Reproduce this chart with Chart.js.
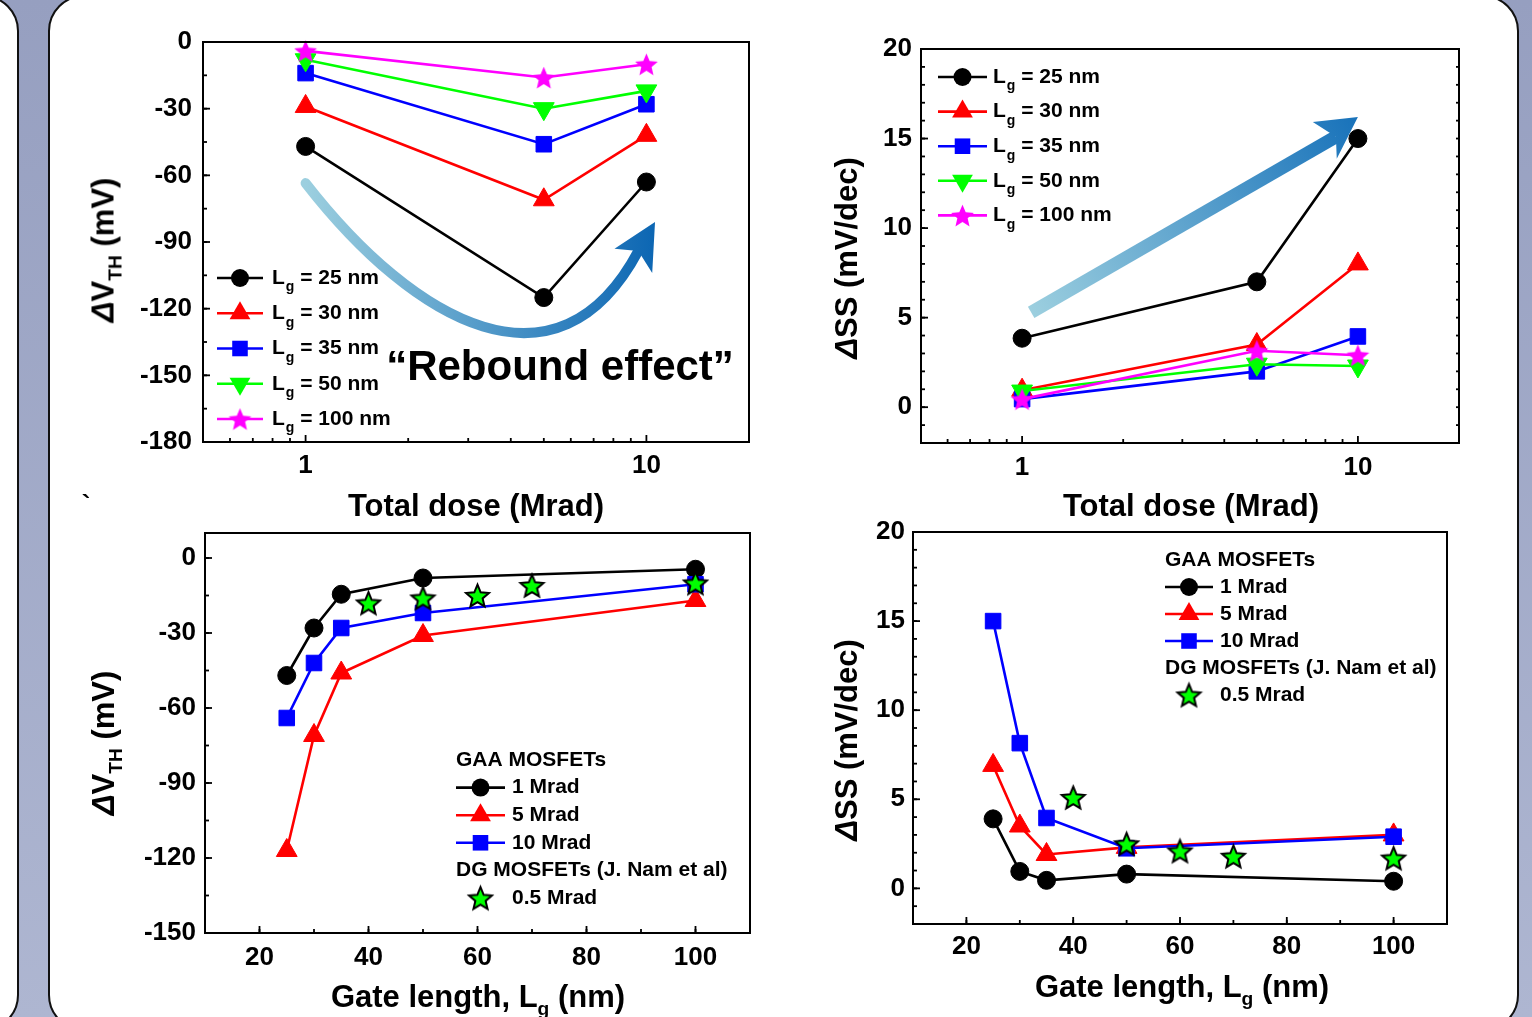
<!DOCTYPE html>
<html>
<head>
<meta charset="utf-8">
<script src="https://cdn.jsdelivr.net/npm/chart.js@4.4.1/dist/chart.umd.min.js"></script>
<style>
  body { margin: 0; width: 1532px; height: 1017px; overflow: hidden; position: relative;
    background: linear-gradient(#969fc0, #aeb6d1); font-family: "Liberation Sans", Arial, sans-serif; }
  .panel { position: absolute; background: #fff; border: 2px solid #111; border-radius: 36px; box-sizing: border-box; }
  canvas { position: absolute; left: 0; top: 0; }
  .t { position: absolute; font-weight: bold; white-space: nowrap; line-height: 1; font-size: 31px;
    transform: translate(-50%, -50%); color: #000; }
  .ty { transform: translate(-50%, -50%) rotate(-90deg); }
  .s { font-size: 0.62em; position: relative; top: 0.4em; }
</style>
</head>
<body>
<div class="panel" style="left:-100px;top:-5px;width:119px;height:1036px"></div>
<div class="panel" style="left:48px;top:-5px;width:1471px;height:1036px"></div>

<canvas id="c1" width="1532" height="1017"></canvas>
<canvas id="c2" width="1532" height="1017"></canvas>
<canvas id="c3" width="1532" height="1017"></canvas>
<canvas id="c4" width="1532" height="1017"></canvas>

<div class="t ty" style="left:103px;top:250px"><i>Δ</i>V<span class="s">TH</span> (mV)</div>
<div class="t" style="left:476px;top:505px">Total dose (Mrad)</div>
<div class="t ty" style="left:846px;top:258px"><i>Δ</i>SS (mV/dec)</div>
<div class="t" style="left:1191px;top:505px">Total dose (Mrad)</div>
<div class="t ty" style="left:103px;top:743px"><i>Δ</i>V<span class="s">TH</span> (mV)</div>
<div class="t" style="left:478px;top:996px">Gate length, L<span class="s">g</span> (nm)</div>
<div class="t ty" style="left:846px;top:740px"><i>Δ</i>SS (mV/dec)</div>
<div class="t" style="left:1182px;top:986px">Gate length, L<span class="s">g</span> (nm)</div>
<div class="t" style="left:560px;top:366px;font-size:42px">“Rebound effect”</div>
<div class="t" style="left:86px;top:504px;font-size:26px">`</div>

<script>
// ---- data: top row, vs total dose ----
const doses = [1, 5, 10];
const dvthLg25 = [-47, -115, -63];
const dvthLg30 = [-29, -71, -42];
const dvthLg35 = [-14, -46, -28];
const dvthLg50 = [-8, -30, -22];
const dvthLg100 = [-4, -16, -10];

const dssLg25 = [3.85, 7.0, 15.0];
const dssLg30 = [0.95, 3.5, 8.0];
const dssLg35 = [0.45, 2.0, 3.95];
const dssLg50 = [0.9, 2.4, 2.3];
const dssLg100 = [0.45, 3.15, 2.9];

// ---- data: bottom row, vs gate length ----
const gateLengths = [25, 30, 35, 50, 100];
const dvth1Mrad = [-47, -28, -14.5, -8, -4.5];
const dvth5Mrad = [-117, -71, -46, -31, -17];
const dvth10Mrad = [-64, -42, -28, -22, -10.5];
const namLengths = [40, 50, 60, 70, 100];
const namDvth = [-18, -16, -15, -11, -10];

const dss1Mrad = [3.9, 0.95, 0.45, 0.8, 0.4];
const dss5Mrad = [6.9, 3.5, 1.9, 2.3, 3.0];
const dss10Mrad = [15, 8.15, 3.95, 2.25, 2.9];
const namDss = [5.1, 2.5, 2.1, 1.8, 1.7];

// ---- ticks ----
const doseTicks = [1, 10];
const doseMinor = [0.6, 0.7, 0.8, 0.9, 2, 3, 4, 5, 6, 7, 8, 9, 20];
const dvthTicks = [0, -30, -60, -90, -120, -150, -180];
const dssTicks = [0, 5, 10, 15, 20];
const lengthTicks = [20, 40, 60, 80, 100];

const FONT = '"Liberation Sans", Arial, sans-serif';
const tickFont = { family: FONT, size: 26, weight: 'bold' };

function starImage(R, fill, stroke, lw) {
    const c = document.createElement('canvas');
    const size = Math.ceil(2 * R + lw + 3);
    c.width = c.height = size;
    const g = c.getContext('2d');
    const cx = size / 2, cy = size / 2 + R * 0.1;
    g.beginPath();
    for (let k = 0; k < 10; k++) {
        const r = k % 2 ? R * 0.45 : R;
        const a = -Math.PI / 2 + k * Math.PI / 5;
        g.lineTo(cx + r * Math.cos(a), cy + r * Math.sin(a));
    }
    g.closePath();
    g.fillStyle = fill;
    g.fill();
    if (stroke) {
        g.lineWidth = lw;
        g.strokeStyle = stroke;
        g.stroke();
    }
    return c;
}
const magentaStar = starImage(12, '#ff00ff', null, 0);
const greenStar = starImage(12, '#00ff00', '#000', 2);

function range(a, b, step) {
    const out = [];
    for (let v = a; v <= b + 1e-9; v += step) out.push(v);
    return out;
}

function series(label, xs, ys, color, style, extra) {
    return Object.assign({
        label: label,
        data: xs.map((x, i) => ({ x: x, y: ys[i] })),
        showLine: true,
        borderColor: color,
        backgroundColor: color,
        borderWidth: 2.6,
        pointBackgroundColor: color,
        pointBorderColor: color,
        pointBorderWidth: 1,
        pointStyle: style,
        pointRadius: 9,
        clip: false
    }, extra || {});
}

function drawMarker(ctx, ds, x, y) {
    const st = ds.pointStyle, r = ds.pointRadius;
    if (st instanceof HTMLCanvasElement) {
        ctx.drawImage(st, x - st.width / 2, y - st.height / 2);
        return;
    }
    ctx.fillStyle = ds.pointBackgroundColor;
    ctx.beginPath();
    if (st === 'circle') ctx.arc(x, y, r, 0, Math.PI * 2);
    else if (st === 'rect') {
        const h = r * Math.SQRT1_2;
        ctx.rect(x - h, y - h, 2 * h, 2 * h);
    } else if (st === 'triangle') {
        const rot = (ds.pointRotation || 0) * Math.PI / 180;
        for (let k = 0; k < 3; k++) {
            const a = rot + k * 2 * Math.PI / 3;
            ctx.lineTo(x + Math.sin(a) * r, y - Math.cos(a) * r);
        }
        ctx.closePath();
    }
    ctx.fill();
}

function drawParts(ctx, parts, x, y, size) {
    parts.forEach(p => {
        if (typeof p === 'string') {
            ctx.font = 'bold ' + size + 'px ' + FONT;
            ctx.fillText(p, x, y);
            x += ctx.measureText(p).width;
        } else {
            ctx.font = 'bold ' + Math.round(size * 0.65) + 'px ' + FONT;
            ctx.fillText(p.sub, x + 1, y + size * 0.45);
            x += ctx.measureText(p.sub).width + 1;
        }
    });
}

// frame box + inward ticks
const frameTicks = {
    id: 'frameTicks',
    afterDraw(chart, args, o) {
        const { ctx, chartArea: a, scales: { x, y } } = chart;
        ctx.save();
        ctx.strokeStyle = '#000';
        ctx.lineWidth = 2;
        ctx.strokeRect(a.left, a.top, a.right - a.left, a.bottom - a.top);
        ctx.lineWidth = 1.8;
        const tick = (px, py, dx, dy) => {
            ctx.beginPath();
            ctx.moveTo(px, py);
            ctx.lineTo(px + dx, py + dy);
            ctx.stroke();
        };
        x.ticks.forEach(t => tick(x.getPixelForValue(t.value), a.bottom, 0, -7));
        (o.xMinor || []).forEach(v => tick(x.getPixelForValue(v), a.bottom, 0, -4));
        y.ticks.forEach(t => tick(a.left, y.getPixelForValue(t.value), 7, 0));
        (o.yMinor || []).forEach(v => tick(a.left, y.getPixelForValue(v), 4, 0));
        if (o.mirrorY) {
            (o.yMinor || []).forEach(v => tick(a.right, y.getPixelForValue(v), -3, 0));
        }
        ctx.restore();
    }
};

// blue gradient arrows
const arrowDeco = {
    id: 'arrowDeco',
    beforeDatasetsDraw(chart, args, o) {
        if (!o.shaft) return;
        const { ctx, scales: { x, y } } = chart;
        const P = p => [x.getPixelForValue(p[0]), y.getPixelForValue(p[1])];
        const s = o.shaft.map(P);
        const h = o.head.map(P);
        const g = ctx.createLinearGradient(s[0][0], o.horizontal ? 0 : s[0][1], h[0][0], o.horizontal ? 0 : h[0][1]);
        g.addColorStop(0, o.from);
        g.addColorStop(1, o.to);
        ctx.save();
        ctx.strokeStyle = g;
        ctx.fillStyle = g;
        ctx.lineWidth = o.width;
        ctx.lineCap = o.cap || 'butt';
        ctx.beginPath();
        ctx.moveTo(s[0][0], s[0][1]);
        if (s.length === 4) ctx.bezierCurveTo(s[1][0], s[1][1], s[2][0], s[2][1], s[3][0], s[3][1]);
        else ctx.lineTo(s[1][0], s[1][1]);
        ctx.stroke();
        ctx.beginPath();
        ctx.moveTo(h[0][0], h[0][1]);
        h.slice(1).forEach(p => ctx.lineTo(p[0], p[1]));
        ctx.closePath();
        ctx.fill();
        ctx.restore();
    }
};

// custom legend drawn inside the plot
const keyBox = {
    id: 'keyBox',
    afterDatasetsDraw(chart, args, o) {
        if (!o.entries) return;
        const ctx = chart.ctx;
        ctx.save();
        ctx.textBaseline = 'middle';
        ctx.fillStyle = '#000';
        o.entries.forEach((e, i) => {
            const yy = o.top + i * o.gap;
            let tx = o.left;
            if (e.ds !== undefined) {
                const ds = chart.data.datasets[e.ds];
                if (!e.noLine) {
                    ctx.strokeStyle = ds.borderColor;
                    ctx.lineWidth = 2.6;
                    ctx.beginPath();
                    ctx.moveTo(o.left, yy);
                    ctx.lineTo(o.left + o.lineLen, yy);
                    ctx.stroke();
                }
                drawMarker(ctx, ds, o.left + o.lineLen / 2, yy);
                tx = o.left + o.textAt;
            }
            ctx.fillStyle = '#000';
            drawParts(ctx, e.text, tx, yy, o.size);
        });
        ctx.restore();
    }
};

function makeChart(id, area, xs, ys, datasets, plugins) {
    return new Chart(document.getElementById(id), {
        type: 'scatter',
        data: { datasets: datasets },
        options: {
            responsive: false,
            animation: false,
            devicePixelRatio: 1,
            layout: { padding: { left: 0, top: area.top, right: 1532 - area.right, bottom: 0 } },
            scales: {
                x: {
                    type: xs.type, min: xs.min, max: xs.max, position: 'bottom',
                    grid: { display: false, drawTicks: false }, border: { display: false },
                    ticks: { padding: xs.pad, font: tickFont, color: '#000', maxRotation: 0, autoSkip: false,
                        callback: v => String(v) },
                    afterBuildTicks: s => { s.ticks = xs.ticks.map(v => ({ value: v })); },
                    afterFit: s => {
                        s.height = 1017 - area.bottom;
                        s.paddingLeft = 0; s.paddingRight = 0;
                    }
                },
                y: {
                    type: 'linear', min: ys.min, max: ys.max, position: 'left',
                    grid: { display: false, drawTicks: false }, border: { display: false },
                    ticks: { padding: ys.pad, font: tickFont, color: '#000', autoSkip: false,
                        callback: v => String(v) },
                    afterBuildTicks: s => { s.ticks = ys.ticks.map(v => ({ value: v })); },
                    afterFit: s => {
                        s.width = area.left;
                        s.paddingTop = 0; s.paddingBottom = 0;
                    }
                }
            },
            plugins: Object.assign({ legend: { display: false }, tooltip: { enabled: false } }, plugins)
        },
        plugins: [arrowDeco, frameTicks, keyBox]
    });
}

const lgText = n => ['L', { sub: 'g' }, ' = ' + n + ' nm'];

// top-left: dVth vs dose
makeChart('c1', { left: 203, top: 42, right: 749, bottom: 442 },
    { type: 'logarithmic', min: 0.5, max: 20, ticks: doseTicks, pad: 8 },
    { min: -180, max: 0, ticks: dvthTicks, pad: 11 },
    [
        series('Lg = 25 nm', doses, dvthLg25, '#000000', 'circle', { order: 0 }),
        series('Lg = 30 nm', doses, dvthLg30, '#ff0000', 'triangle', { pointRadius: 12, order: -1 }),
        series('Lg = 35 nm', doses, dvthLg35, '#0000ff', 'rect', { pointRadius: 11, order: -2 }),
        series('Lg = 50 nm', doses, dvthLg50, '#00ff00', 'triangle', { pointRadius: 12, pointRotation: 180, order: -3 }),
        series('Lg = 100 nm', doses, dvthLg100, '#ff00ff', magentaStar, { order: -4 })
    ],
    {
        frameTicks: { xMinor: doseMinor, yMinor: range(-180, 0, 15) },
        arrowDeco: {
            shaft: [[1, -63.5], [2.1, -127], [5.5, -162], [9.47, -94]],
            head: [[10.6, -81], [8.06, -93], [9.47, -94], [10.4, -104]],
            width: 10, cap: 'round', horizontal: true, from: '#9ccfdf', to: '#0c66b3'
        },
        keyBox: {
            left: 217, top: 278, gap: 35.25, lineLen: 46, textAt: 55, size: 21,
            entries: [
                { ds: 0, text: lgText(25) }, { ds: 1, text: lgText(30) }, { ds: 2, text: lgText(35) },
                { ds: 3, text: lgText(50) }, { ds: 4, text: lgText(100) }
            ]
        }
    });

// top-right: dSS vs dose
makeChart('c2', { left: 921, top: 49, right: 1459, bottom: 443 },
    { type: 'logarithmic', min: 0.5, max: 20, ticks: doseTicks, pad: 9 },
    { min: -2, max: 20, ticks: dssTicks, pad: 9 },
    [
        series('Lg = 25 nm', doses, dssLg25, '#000000', 'circle', { order: 0 }),
        series('Lg = 30 nm', doses, dssLg30, '#ff0000', 'triangle', { pointRadius: 12, order: -1 }),
        series('Lg = 35 nm', doses, dssLg35, '#0000ff', 'rect', { pointRadius: 11, order: -2 }),
        series('Lg = 50 nm', doses, dssLg50, '#00ff00', 'triangle', { pointRadius: 12, pointRotation: 180, order: -3 }),
        series('Lg = 100 nm', doses, dssLg100, '#ff00ff', magentaStar, { order: -4 })
    ],
    {
        frameTicks: { xMinor: doseMinor, yMinor: range(-2, 20, 1), mirrorY: true },
        arrowDeco: {
            shaft: [[1.064, 5.3], [8.6, 15.1]],
            head: [[10.0, 16.2], [7.34, 15.93], [8.6, 15.1], [8.65, 13.87]],
            width: 13, from: '#9ccfdf', to: '#1872ba'
        },
        keyBox: {
            left: 938, top: 77, gap: 34.6, lineLen: 49, textAt: 55, size: 21,
            entries: [
                { ds: 0, text: lgText(25) }, { ds: 1, text: lgText(30) }, { ds: 2, text: lgText(35) },
                { ds: 3, text: lgText(50) }, { ds: 4, text: lgText(100) }
            ]
        }
    });

// bottom-left: dVth vs gate length
makeChart('c3', { left: 205, top: 533, right: 750, bottom: 933 },
    { type: 'linear', min: 10, max: 110, ticks: lengthTicks, pad: 9 },
    { min: -150, max: 10, ticks: dvthTicks.slice(0, 6), pad: 9 },
    [
        series('1 Mrad', gateLengths, dvth1Mrad, '#000000', 'circle', { order: 0 }),
        series('5 Mrad', gateLengths, dvth5Mrad, '#ff0000', 'triangle', { pointRadius: 12, order: -1 }),
        series('10 Mrad', gateLengths, dvth10Mrad, '#0000ff', 'rect', { pointRadius: 11, order: -2 }),
        series('0.5 Mrad', namLengths, namDvth, '#00ff00', greenStar, { showLine: false, order: -3 })
    ],
    {
        frameTicks: { xMinor: range(10, 110, 10), yMinor: range(-150, 0, 15) },
        keyBox: {
            left: 456, top: 760, gap: 27.6, lineLen: 49, textAt: 56, size: 21,
            entries: [
                { text: ['GAA MOSFETs'] },
                { ds: 0, text: ['1 Mrad'] }, { ds: 1, text: ['5 Mrad'] }, { ds: 2, text: ['10 Mrad'] },
                { text: ['DG MOSFETs (J. Nam et al)'] },
                { ds: 3, noLine: true, text: ['0.5 Mrad'] }
            ]
        }
    });

// bottom-right: dSS vs gate length
makeChart('c4', { left: 913, top: 532, right: 1447, bottom: 924 },
    { type: 'linear', min: 10, max: 110, ticks: lengthTicks, pad: 7 },
    { min: -2, max: 20, ticks: dssTicks, pad: 8 },
    [
        series('1 Mrad', gateLengths, dss1Mrad, '#000000', 'circle', { order: 0 }),
        series('5 Mrad', gateLengths, dss5Mrad, '#ff0000', 'triangle', { pointRadius: 12, order: -1 }),
        series('10 Mrad', gateLengths, dss10Mrad, '#0000ff', 'rect', { pointRadius: 11, order: -2 }),
        series('0.5 Mrad', namLengths, namDss, '#00ff00', greenStar, { showLine: false, order: -3 })
    ],
    {
        frameTicks: { xMinor: range(10, 110, 10), yMinor: range(-2, 20, 1) },
        keyBox: {
            left: 1165, top: 560, gap: 27, lineLen: 48, textAt: 55, size: 21,
            entries: [
                { text: ['GAA MOSFETs'] },
                { ds: 0, text: ['1 Mrad'] }, { ds: 1, text: ['5 Mrad'] }, { ds: 2, text: ['10 Mrad'] },
                { text: ['DG MOSFETs (J. Nam et al)'] },
                { ds: 3, noLine: true, text: ['0.5 Mrad'] }
            ]
        }
    });
</script>
</body>
</html>
